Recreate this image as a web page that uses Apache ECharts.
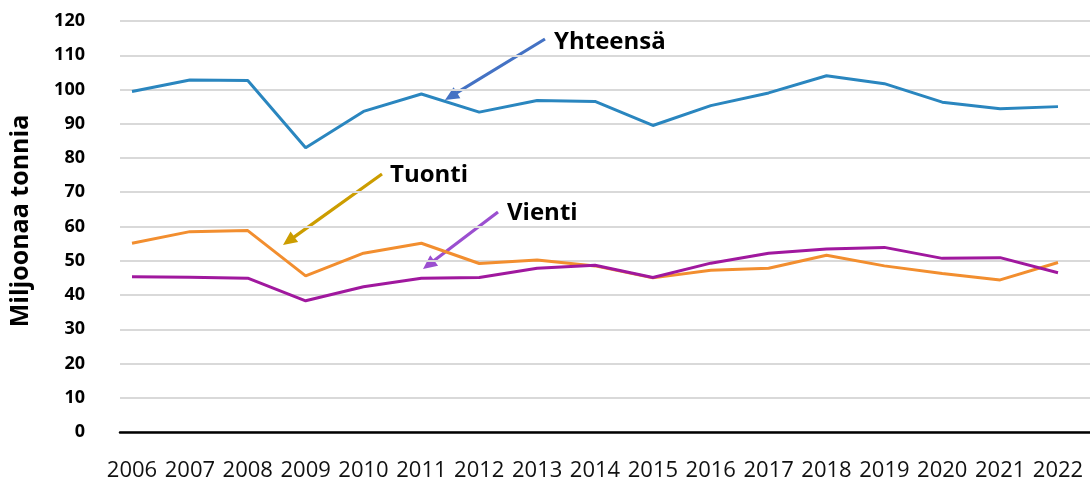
<!DOCTYPE html>
<html>
<head>
<meta charset="utf-8">
<script src="https://cdn.jsdelivr.net/npm/echarts@6/dist/echarts.min.js"></script>
<style>
  html, body { margin: 0; padding: 0; background: #fff; }
  #chart { width: 1090px; height: 482px; }
</style>
</head>
<body>
<div id="chart"></div>
<script>
// vuodet
var years = ['2006', '2007', '2008', '2009', '2010', '2011', '2012', '2013', '2014',
  '2015', '2016', '2017', '2018', '2019', '2020', '2021', '2022'];

// miljoonaa tonnia
var yhteensa = [99.4, 102.8, 102.6, 83.0, 93.6, 98.7, 93.4, 96.8, 96.5,
  89.5, 95.3, 99.0, 104.0, 101.7, 96.3, 94.4, 95.0];
var tuonti = [55.1, 58.5, 58.8, 45.6, 52.2, 55.1, 49.2, 50.2, 48.5,
  45.0, 47.2, 47.8, 51.6, 48.5, 46.3, 44.4, 49.5];
var vienti = [45.3, 45.2, 44.9, 38.3, 42.4, 44.9, 45.1, 47.8, 48.7,
  45.1, 49.3, 52.2, 53.4, 53.9, 50.7, 50.9, 46.5];

var font = '"Open Sans", "Liberation Sans", sans-serif';

// nuoli yhtenä monikulmiona (varsi + kärki)
function arrow(x1, y1, x2, y2, color) {
  var dx = x2 - x1, dy = y2 - y1;
  var len = Math.sqrt(dx * dx + dy * dy);
  var ux = dx / len, uy = dy / len;
  var nx = -uy, ny = ux;
  var hl = 14, hw = 6.5, sw = 1.6;
  var bx = x2 - ux * hl, by = y2 - uy * hl;
  return {
    type: 'polygon', silent: true,
    shape: {
      points: [
        [x1 + nx * sw, y1 + ny * sw],
        [bx + nx * sw, by + ny * sw],
        [bx + nx * hw, by + ny * hw],
        [x2, y2],
        [bx - nx * hw, by - ny * hw],
        [bx - nx * sw, by - ny * sw],
        [x1 - nx * sw, y1 - ny * sw]
      ]
    },
    style: { fill: color }
  };
}

function label(text, x, y) {
  return {
    type: 'text', silent: true, x: x, y: y,
    style: { text: text, font: 'bold 24px ' + font, fill: '#000', verticalAlign: 'middle' }
  };
}

var chart = echarts.init(document.getElementById('chart'));

var graphics = [
  arrow(545, 39, 445, 100, '#4472C4'),
  arrow(382, 174, 283, 245, '#CC9D00'),
  arrow(498, 212, 423, 269, '#9B4FD0'),
  label('Yhteensä', 554, 42),
  label('Tuonti', 390, 175),
  label('Vienti', 507, 213),
  {
    type: 'text', silent: true, x: 21, y: 221, rotation: Math.PI / 2,
    style: {
      text: 'Miljoonaa tonnia', font: 'bold 25px ' + font, fill: '#000',
      align: 'center', verticalAlign: 'middle'
    }
  }
];

chart.setOption({
  animation: false,
  backgroundColor: '#fff',
  grid: [
    { left: 120, right: 0, top: 21, bottom: 50 },
    { left: 132, right: 32, top: 21, bottom: 50 }
  ],
  xAxis: [
    {
      type: 'category', gridIndex: 0, data: years, boundaryGap: false,
      axisLine: { show: true, lineStyle: { color: '#000', width: 2.5 } },
      axisTick: { show: false }, axisLabel: { show: false }, splitLine: { show: false }
    },
    {
      type: 'category', gridIndex: 1, data: years, boundaryGap: false,
      axisLine: { show: false }, axisTick: { show: false },
      axisLabel: { interval: 0, margin: 28, fontSize: 22, fontFamily: font, color: '#111' }
    }
  ],
  yAxis: [
    {
      type: 'value', gridIndex: 0, min: 0, max: 120, interval: 10,
      axisLine: { show: false }, axisTick: { show: false },
      axisLabel: { margin: 35, fontSize: 18, fontWeight: 'bold', fontFamily: font, color: '#000' },
      splitLine: { lineStyle: { color: '#d9d9d9', width: 2 } }
    },
    {
      type: 'value', gridIndex: 1, min: 0, max: 120, interval: 10,
      axisLine: { show: false }, axisTick: { show: false },
      axisLabel: { show: false }, splitLine: { show: false }
    }
  ],
  series: [
    {
      name: 'Yhteensä', type: 'line', xAxisIndex: 1, yAxisIndex: 1, data: yhteensa,
      showSymbol: false, lineStyle: { color: '#2A86BF', width: 3 }
    },
    {
      name: 'Tuonti', type: 'line', xAxisIndex: 1, yAxisIndex: 1, data: tuonti,
      showSymbol: false, lineStyle: { color: '#F28E2F', width: 3 }
    },
    {
      name: 'Vienti', type: 'line', xAxisIndex: 1, yAxisIndex: 1, data: vienti,
      showSymbol: false, lineStyle: { color: '#A0189E', width: 3 }
    }
  ],
  graphic: graphics
});
</script>
</body>
</html>
